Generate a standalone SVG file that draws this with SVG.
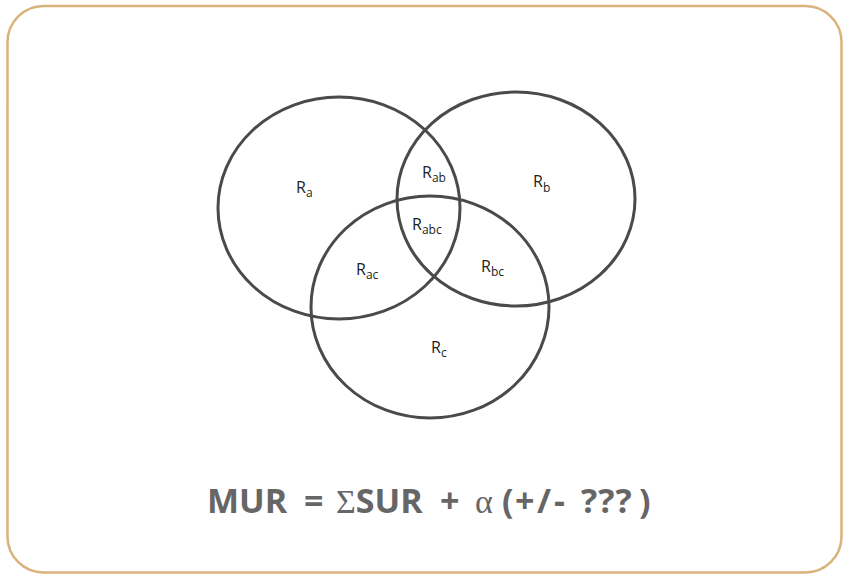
<svg xmlns="http://www.w3.org/2000/svg" width="844" height="575" viewBox="0 0 844 575">
<style>
.set{fill:none;stroke:#4a4a4a;stroke-width:3}
.lbl{font-family:"Open Sans","Noto Sans",sans-serif;font-size:16px;fill:#222222}
.sub{font-size:12px}
.formula{font-family:"Open Sans","Noto Sans",sans-serif;font-size:34px;font-weight:bold;fill:#666666}
.sym{font-family:"Liberation Serif",serif;font-weight:normal}
</style>
<rect x="7.5" y="6" width="834" height="566.5" rx="36" ry="36" fill="#ffffff" stroke="#d9b27c" stroke-width="2.5"/>
<g id="set-a"><ellipse class="set" cx="339" cy="208" rx="121" ry="111"/></g>
<g id="set-b"><ellipse class="set" cx="516" cy="199" rx="119" ry="107"/></g>
<g id="set-c"><ellipse class="set" cx="430" cy="307" rx="119" ry="111"/></g>
<g id="labels">
<text class="lbl" x="296" y="193">R<tspan class="sub" dy="4">a</tspan></text>
<text class="lbl" x="533" y="187">R<tspan class="sub" dy="5">b</tspan></text>
<text class="lbl" x="422" y="178">R<tspan class="sub" dy="4">ab</tspan></text>
<text class="lbl" x="412" y="230">R<tspan class="sub" dy="4">abc</tspan></text>
<text class="lbl" x="356" y="275">R<tspan class="sub" dy="4">ac</tspan></text>
<text class="lbl" x="481" y="272">R<tspan class="sub" dy="4">bc</tspan></text>
<text class="lbl" x="431" y="353">R<tspan class="sub" dy="4">c</tspan></text>
</g>
<g id="formula">
<text class="formula" y="513"><tspan x="207">MUR</tspan><tspan x="304">=</tspan><tspan x="336" class="sym">Σ</tspan>SUR<tspan x="440">+</tspan><tspan x="475" class="sym">α</tspan><tspan x="502">(</tspan><tspan x="515">+</tspan><tspan x="537">/</tspan><tspan x="554">-</tspan><tspan x="581" letter-spacing="1">???</tspan><tspan x="639">)</tspan></text>
</g>
</svg>
